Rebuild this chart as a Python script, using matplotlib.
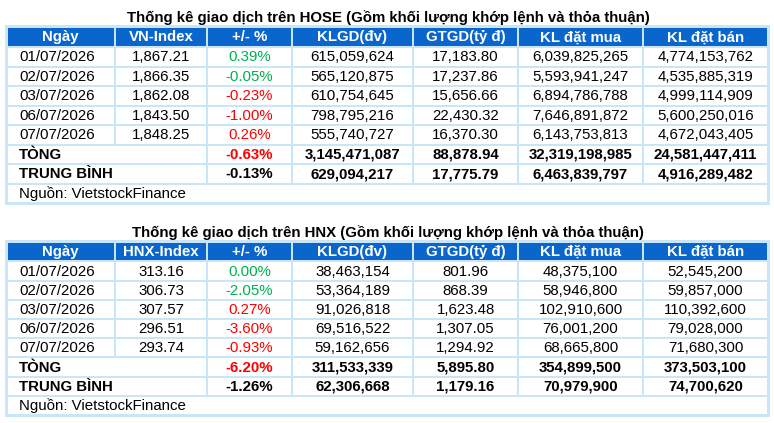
import matplotlib
matplotlib.use("Agg")
import matplotlib.pyplot as plt
from matplotlib.patches import Rectangle

plt.rcParams['font.family'] = ['Liberation Sans', 'DejaVu Sans']

# ---------------- data ----------------
dates = ["01/07/2026", "02/07/2026", "03/07/2026", "06/07/2026", "07/07/2026"]

hose_title = "Thống kê giao dịch trên HOSE (Gồm khối lượng khớp lệnh và thỏa thuận)"
hose_headers = ["Ngày", "VN-Index", "+/- %", "KLGD(đv)", "GTGD(tỷ đ)", "KL đặt mua", "KL đặt bán"]
hose_index = ["1,867.21", "1,866.35", "1,862.08", "1,843.50", "1,848.25"]
hose_pct = ["0.39%", "-0.05%", "-0.23%", "-1.00%", "0.26%"]
hose_klgd = ["615,059,624", "565,120,875", "610,754,645", "798,795,216", "555,740,727"]
hose_gtgd = ["17,183.80", "17,237.86", "15,656.66", "22,430.32", "16,370.30"]
hose_mua = ["6,039,825,265", "5,593,941,247", "6,894,786,788", "7,646,891,872", "6,143,753,813"]
hose_ban = ["4,774,153,762", "4,535,885,319", "4,999,114,909", "5,600,250,016", "4,672,043,405"]
hose_total = ["-0.63%", "3,145,471,087", "88,878.94", "32,319,198,985", "24,581,447,411"]
hose_avg = ["-0.13%", "629,094,217", "17,775.79", "6,463,839,797", "4,916,289,482"]

hnx_title = "Thống kê giao dịch trên HNX (Gồm khối lượng khớp lệnh và thỏa thuận)"
hnx_headers = ["Ngày", "HNX-Index", "+/- %", "KLGD(đv)", "GTGD(tỷ đ)", "KL đặt mua", "KL đặt bán"]
hnx_index = ["313.16", "306.73", "307.57", "296.51", "293.74"]
hnx_pct = ["0.00%", "-2.05%", "0.27%", "-3.60%", "-0.93%"]
hnx_klgd = ["38,463,154", "53,364,189", "91,026,818", "69,516,522", "59,162,656"]
hnx_gtgd = ["801.96", "868.39", "1,623.48", "1,307.05", "1,294.92"]
hnx_mua = ["48,375,100", "58,946,800", "102,910,600", "76,001,200", "68,665,800"]
hnx_ban = ["52,545,200", "59,857,000", "110,392,600", "79,028,000", "71,680,300"]
hnx_total = ["-6.20%", "311,533,339", "5,895.80", "354,899,500", "373,503,100"]
hnx_avg = ["-1.26%", "62,306,668", "1,179.16", "70,979,900", "74,700,620"]

total_label = "TÒNG"
avg_label = "TRUNG BÌNH"
source_label = "Nguồn: VietstockFinance"

# ---------------- styles ----------------
GREEN = "#00B050"
RED = "#FF0000"
BLACK = "#000000"
HEAD_BG = "#0A66CC"
GRID = "#C8E6F8"
hose_pct_colors = [GREEN, GREEN, RED, RED, RED]
hose_total_color = RED
hose_avg_color = BLACK
hnx_pct_colors = [GREEN, GREEN, RED, RED, RED]
hnx_total_color = RED
hnx_avg_color = BLACK

W, H = 774, 423
DPI = 100
FS = 10.8
col_edges = [6, 115, 207, 292, 413, 518, 643, 768]

fig = plt.figure(figsize=(W / DPI, H / DPI), dpi=DPI)
ax = fig.add_axes([0, 0, 1, 1])
ax.set_xlim(0, W)
ax.set_ylim(H, 0)
ax.axis("off")


def draw_table(title, title_y, top, bottom, headers, index, pct, klgd, gtgd, mua, ban,
               total, avg, pct_colors, total_color, avg_color):
    head_h = 20.5
    nrows = 8
    rh = (bottom - top - head_h) / nrows
    x0, x1 = col_edges[0], col_edges[-1]
    ax.text((x0 + x1) / 2 + 1, title_y, title, ha="center", va="center",
            fontsize=FS, fontweight="bold", color=BLACK)
    # header background
    ax.add_patch(Rectangle((x0, top), x1 - x0, head_h, facecolor=HEAD_BG, edgecolor="none", zorder=1))
    for i, h in enumerate(headers):
        cx = (col_edges[i] + col_edges[i + 1]) / 2
        ax.text(cx, top + head_h / 2 + 0.5, h, ha="center", va="center", fontsize=FS,
                fontweight="bold", color="white", zorder=3)
    row_top = [top + head_h + k * rh for k in range(nrows + 1)]
    # data rows
    for r in range(len(index)):
        cy = row_top[r] + rh / 2 + 0.5
        vals = [index[r], pct[r], klgd[r], gtgd[r], mua[r], ban[r]]
        ax.text(col_edges[0] + 13, cy, dates[r], ha="left", va="center", fontsize=FS, color=BLACK, zorder=3)
        for j, v in enumerate(vals):
            c = j + 1
            cx = (col_edges[c] + col_edges[c + 1]) / 2
            color = pct_colors[r] if j == 1 else BLACK
            ax.text(cx, cy, v, ha="center", va="center", fontsize=FS, color=color, zorder=3)
    # total & average
    for k, (label, vals, pc) in enumerate([(total_label, total, total_color),
                                           (avg_label, avg, avg_color)]):
        r = len(index) + k
        cy = row_top[r] + rh / 2 + 0.5
        ax.text(col_edges[0] + 13, cy, label, ha="left", va="center", fontsize=FS,
                fontweight="bold", color=BLACK, zorder=3)
        for j, v in enumerate(vals):
            c = j + 2
            cx = (col_edges[c] + col_edges[c + 1]) / 2
            color = pc if j == 0 else BLACK
            ax.text(cx, cy, v, ha="center", va="center", fontsize=FS, fontweight="bold",
                    color=color, zorder=3)
    # source row
    r = nrows - 1
    ax.text(col_edges[0] + 13, row_top[r] + rh / 2 + 0.5, source_label, ha="left", va="center",
            fontsize=FS, color=BLACK, zorder=3)
    lw = 2 * 72 / DPI
    # horizontal grid lines
    for k in range(1, nrows):
        ax.plot([x0, x1], [row_top[k], row_top[k]], color=GRID, lw=lw, zorder=2,
                solid_capstyle="butt")
    ax.plot([x0, x1], [row_top[0], row_top[0]], color=GRID, lw=lw, zorder=2, solid_capstyle="butt")
    # vertical grid lines
    for i, xe in enumerate(col_edges[1:-1], start=1):
        y_end = row_top[len(index)] if i == 1 else row_top[nrows - 1]
        ax.plot([xe, xe], [top, y_end], color=GRID, lw=lw, zorder=2, solid_capstyle="butt")
    # outer border
    ax.add_patch(Rectangle((x0, top), x1 - x0, bottom - top, facecolor="none", edgecolor=GRID,
                           lw=3 * 72 / DPI, zorder=2))


draw_table(hose_title, 17.5, 26.5, 203.3, hose_headers, hose_index, hose_pct, hose_klgd,
           hose_gtgd, hose_mua, hose_ban, hose_total, hose_avg, hose_pct_colors,
           hose_total_color, hose_avg_color)
draw_table(hnx_title, 232.5, 241, 415, hnx_headers, hnx_index, hnx_pct, hnx_klgd,
           hnx_gtgd, hnx_mua, hnx_ban, hnx_total, hnx_avg, hnx_pct_colors,
           hnx_total_color, hnx_avg_color)

fig.savefig("out.png", dpi=DPI, facecolor="white")
